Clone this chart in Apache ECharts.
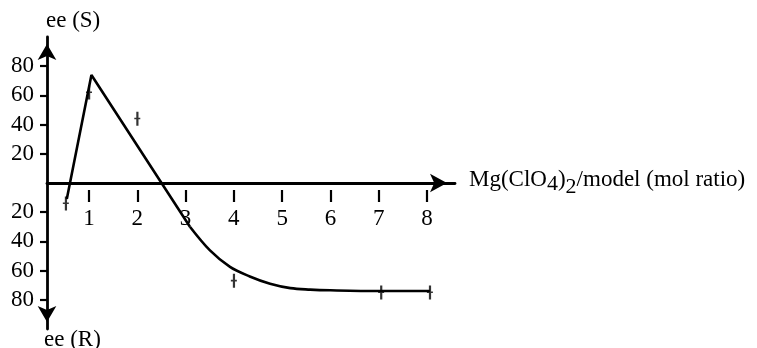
<!DOCTYPE html>
<html><head><meta charset="utf-8">
<script src="https://cdn.jsdelivr.net/npm/echarts@6/dist/echarts.min.js"></script>
<style>html,body{margin:0;padding:0;background:#fff}#c{width:757px;height:348px}</style>
</head><body><div id="c"></div>
<script>
const xTicks = [1, 2, 3, 4, 5, 6, 7, 8];
const yTicks = [-80, -60, -40, -20, 20, 40, 60, 80];
const pointsX = [0.52, 1, 2, 4, 7.05, 8.06];
const pointsY = [-14, 62, 44, -67, -75, -75];
const riseX = [0.54, 1.05, 3.09];
const riseY = [-11, 74, -30];
const tailX = [3.09, 3.5, 3.92, 4.33, 4.75, 5.17, 5.58, 6, 7, 8.06];
const tailY = [-30, -46, -57.5, -64, -69, -72, -73, -73.5, -74, -74];

const FONT = 'Liberation Serif';
const FS = 23;
const pair = (xs, ys) => xs.map((x, i) => [x, ys[i]]);

const chart = echarts.init(document.getElementById('c'));
chart.setOption({
  animation: false,
  backgroundColor: '#fff',
  grid: { left: 47, right: 302, top: 37, height: 292 },
  xAxis: [{
    type: 'value', min: 0.13, max: 8.58,
    axisLine: { show: true, onZero: true, lineStyle: { color: '#000', width: 2.8 },
      symbol: ['none', 'arrow'], symbolSize: [14, 17], symbolOffset: [0, -8] },
    axisTick: { show: false }, axisLabel: { show: false }, splitLine: { show: false },
    name: '{m|Mg(ClO}{s|4}{m|)}{t|2}{m|/model (mol ratio)}',
    nameLocation: 'end', nameGap: 14,
    nameTextStyle: {
      color: '#000', fontFamily: FONT, fontSize: FS,
      rich: {
        m: { fontFamily: FONT, fontSize: FS, color: '#000', verticalAlign: 'top' },
        s: { fontFamily: FONT, fontSize: 22, color: '#000', verticalAlign: 'top', padding: [5, 0, 0, 0] },
        t: { fontFamily: FONT, fontSize: 22, color: '#000', verticalAlign: 'top', padding: [8, 0, 0, 0] }
      }
    }
  }, {
    type: 'value', min: 0.13, max: 8.58, position: 'bottom', offset: -139,
    axisLine: { show: false, onZero: false },
    axisTick: { show: true, customValues: xTicks, length: 12, lineStyle: { color: '#000', width: 2.2 } },
    axisLabel: { show: true, customValues: xTicks, margin: 17, color: '#000', fontFamily: FONT, fontSize: FS },
    splitLine: { show: false }
  }],
  yAxis: {
    type: 'value', min: -100, max: 100, interval: 20,
    axisLine: { show: true, lineStyle: { color: '#000', width: 2.8 },
      symbol: ['arrow', 'arrow'], symbolSize: [14, 16], symbolOffset: [7, -7] },
    axisTick: { show: true, customValues: yTicks, length: 7, lineStyle: { color: '#000', width: 2.2 } },
    axisLabel: { show: true, customValues: yTicks, margin: 13, color: '#000', fontFamily: FONT, fontSize: FS,
      formatter: v => String(Math.abs(v)) },
    splitLine: { show: false }
  },
  graphic: [
    { type: 'text', left: 46, top: 9, style: { text: 'ee (S)', fill: '#000', font: FS + 'px "Liberation Serif"' } },
    { type: 'text', left: 44, top: 328, style: { text: 'ee (R)', fill: '#000', font: FS + 'px "Liberation Serif"' } }
  ],
  series: [
    { type: 'line', data: pair(riseX, riseY), symbol: 'none', lineStyle: { color: '#000', width: 2.6 } },
    { type: 'line', data: pair(tailX, tailY), symbol: 'none', smooth: 0.35, lineStyle: { color: '#000', width: 2.6 } },
    { type: 'scatter', data: pair(pointsX, pointsY),
      symbol: 'path://M2,0H4.2V6H6V7.6H4.2V14H2V7.6H0V6H2Z', symbolSize: [6, 14],
      itemStyle: { color: '#000' } }
  ]
});
</script></body></html>
